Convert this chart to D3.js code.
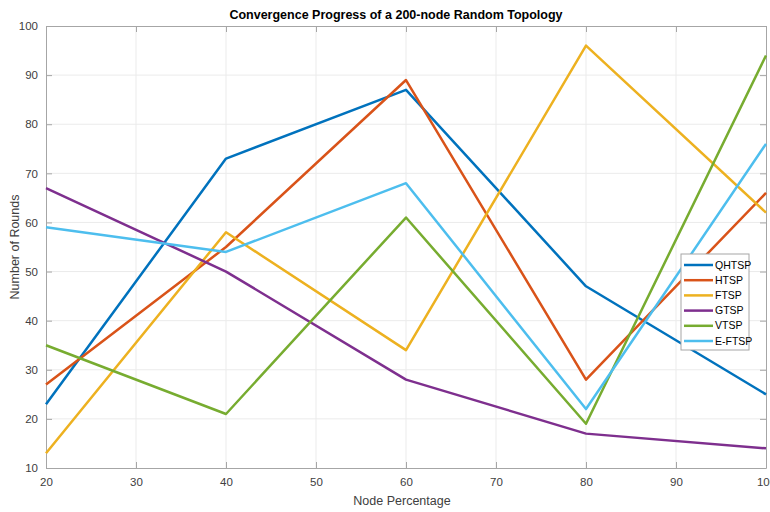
<!DOCTYPE html>
<html>
<head>
<meta charset="utf-8">
<script src="https://cdn.jsdelivr.net/npm/d3@7"></script>
<style>
body { margin: 0; background: #fff; }
svg { font-family: "Liberation Sans", Arial, sans-serif; }
</style>
</head>
<body>
<svg id="chart" width="770" height="512"></svg>
<script>
const nodePercent = [20, 40, 60, 80, 100];
const seriesNames = ["QHTSP", "HTSP", "FTSP", "GTSP", "VTSP", "E-FTSP"];
const qhtsp = [23, 73, 87, 47, 25];
const htsp = [27, 55, 89, 28, 66];
const ftsp = [13, 58, 34, 96, 62];
const gtsp = [67, 50, 28, 17, 14];
const vtsp = [35, 21, 61, 19, 94];
const eftsp = [59, 54, 68, 22, 76];
const xTicks = [20, 30, 40, 50, 60, 70, 80, 90, 100];
const yTicks = [10, 20, 30, 40, 50, 60, 70, 80, 90, 100];

const seriesValues = [qhtsp, htsp, ftsp, gtsp, vtsp, eftsp];
const colors = ["#0072BD", "#D95319", "#EDB120", "#7E2F8E", "#77AC30", "#4DBEEE"];

let svg = d3.select("#chart"),
    margin = {top: 26, right: 4, bottom: 44, left: 46},
    width = +svg.attr("width") - margin.left - margin.right,
    height = +svg.attr("height") - margin.top - margin.bottom,
    g = svg.append("g").attr("transform", "translate(" + margin.left + "," + margin.top + ")");

let x = d3.scaleLinear().domain([20, 100]).range([0, width]);
let y = d3.scaleLinear().domain([10, 100]).range([height, 0]);

// grid
g.append("g").selectAll("line")
    .data(xTicks.slice(1, -1)).enter().append("line")
    .attr("x1", d => x(d)).attr("x2", d => x(d))
    .attr("y1", 0).attr("y2", height)
    .attr("stroke", "#ebebeb").attr("stroke-width", 1);
g.append("g").selectAll("line")
    .data(yTicks.slice(1, -1)).enter().append("line")
    .attr("y1", d => y(d)).attr("y2", d => y(d))
    .attr("x1", 0).attr("x2", width)
    .attr("stroke", "#ebebeb").attr("stroke-width", 1);

// axes, matlab style: ticks inward, labels outside
let tickColor = "#404040";
let xAxis = g.append("g")
    .attr("transform", "translate(0," + height + ")")
    .call(d3.axisBottom(x).tickValues(xTicks).tickSizeInner(-6).tickSizeOuter(0).tickPadding(10));
let xTop = g.append("g")
    .call(d3.axisTop(x).tickValues(xTicks).tickSizeInner(-6).tickSizeOuter(0).tickFormat(""));
let yAxis = g.append("g")
    .call(d3.axisLeft(y).tickValues(yTicks).tickSizeInner(-6).tickSizeOuter(0).tickPadding(8));
let yRight = g.append("g")
    .attr("transform", "translate(" + width + ",0)")
    .call(d3.axisRight(y).tickValues(yTicks).tickSizeInner(-6).tickSizeOuter(0).tickFormat(""));

[xAxis, xTop, yAxis, yRight].forEach(a => {
    a.select(".domain").attr("stroke", "#a6a6a6").attr("stroke-width", 1);
    a.selectAll(".tick line").attr("stroke", "#a6a6a6");
    a.selectAll(".tick text")
        .attr("fill", tickColor)
        .style("font-size", "11.5px");
});

// lines
let line = d3.line()
    .x((d, i) => x(nodePercent[i]))
    .y(d => y(d));

g.append("g").selectAll("path")
    .data(seriesValues).enter().append("path")
    .attr("d", d => line(d))
    .attr("fill", "none")
    .attr("stroke", (d, i) => colors[i])
    .attr("stroke-width", 2.5)
    .attr("stroke-linejoin", "round");

// title and labels
svg.append("text")
    .attr("x", margin.left + width / 2 - 10)
    .attr("y", 19)
    .attr("text-anchor", "middle")
    .attr("fill", "#000")
    .style("font-size", "12.5px")
    .style("font-weight", "bold")
    .text("Convergence Progress of a 200-node Random Topology");

svg.append("text")
    .attr("x", margin.left + width / 2 - 4)
    .attr("y", 505)
    .attr("text-anchor", "middle")
    .attr("fill", tickColor)
    .style("font-size", "12.5px")
    .text("Node Percentage");

svg.append("text")
    .attr("transform", "translate(19," + (margin.top + height / 2) + ") rotate(-90)")
    .attr("text-anchor", "middle")
    .attr("fill", tickColor)
    .style("font-size", "12.5px")
    .text("Number of Rounds");

// legend
let legend = svg.append("g").attr("transform", "translate(681,254)");
legend.append("rect")
    .attr("width", 68).attr("height", 96)
    .attr("fill", "#fff")
    .attr("stroke", "#a6a6a6");
let item = legend.selectAll(".item")
    .data(seriesNames).enter().append("g")
    .attr("class", "item")
    .attr("transform", (d, i) => "translate(0," + (11 + i * 15.2) + ")");
item.append("line")
    .attr("x1", 3).attr("x2", 32)
    .attr("stroke", (d, i) => colors[i])
    .attr("stroke-width", 2.5);
item.append("text")
    .attr("x", 34)
    .attr("dy", "0.35em")
    .attr("fill", "#000")
    .style("font-size", "10.5px")
    .text(d => d);
</script>
</body>
</html>
